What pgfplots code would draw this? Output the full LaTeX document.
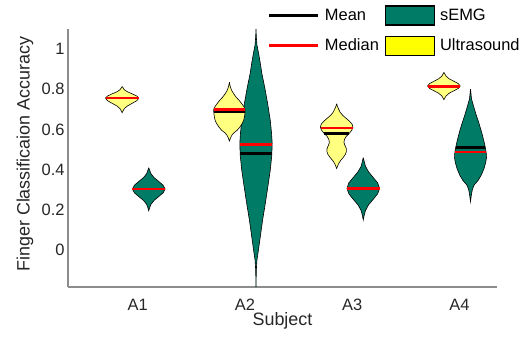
\documentclass[border=0pt]{standalone}
\usepackage{pgfplots}
\pgfplotsset{compat=1.18}
\usepackage{fontspec}
\setmainfont{Liberation Sans}
\definecolor{semg}{RGB}{0,124,102}
\definecolor{usv}{RGB}{255,255,128}
\definecolor{usl}{RGB}{255,255,0}
\definecolor{axgray}{RGB}{140,140,140}
\definecolor{txt}{RGB}{38,38,38}
\begin{document}
\begin{tikzpicture}
\begin{axis}[
 scale only axis, width=429bp, height=258bp,
 xmin=0.35, xmax=4.35, ymin=-0.185, ymax=1.1,
 axis x line*=bottom, axis y line*=left,
 axis line style={axgray, line width=1.3bp, -},
 major tick length=0pt,
 xtick={1,2,3,4}, xticklabels={A1,A2,A3,A4},
 ytick={0,0.2,0.4,0.6,0.8,1},
 tick label style={font=\fontsize{16.5}{19}\selectfont, text=txt},
 /pgf/number format/assume math mode=true,
 xticklabel style={anchor=base, yshift=-23bp},
 label style={font=\fontsize{18}{21}\selectfont, text=txt},
 xlabel={Subject}, ylabel={Finger Classificaion Accuracy},
 xlabel style={at={(axis description cs:0.5,-0.150)}, anchor=base},
 ylabel style={at={(axis description cs:-0.100,0.515)}, anchor=center},
 legend columns=2,
 legend cell align=left,
 legend style={draw=none, fill=none, inner sep=0pt, outer sep=0pt,
   at={(axis description cs:0.4662,1.0915)}, anchor=north west,
   font=\fontsize{16.5}{19}\selectfont, row sep=10bp,
   nodes={inner sep=0pt},
   /tikz/every odd column/.append style={column sep=5bp},
   /tikz/every even column/.append style={column sep=6bp}},
]
\coordinate (O) at (rel axis cs:0,0);
\addlegendimage{legend image code/.code={\draw[black, line width=3bp] (0bp,0bp) -- (49bp,0bp);}}
\addlegendentry{Mean}
\addlegendimage{legend image code/.code={\draw[fill=semg, draw=black, line width=1.2bp] (0bp,-9.5bp) rectangle (49bp,9.5bp);}}
\addlegendentry{sEMG}
\addlegendimage{legend image code/.code={\draw[red, line width=3bp] (0bp,0bp) -- (49bp,0bp);}}
\addlegendentry{Median}
\addlegendimage{legend image code/.code={\draw[fill=usl, draw=black, line width=1.2bp] (0bp,-9.5bp) rectangle (49bp,9.5bp);}}
\addlegendentry{Ultrasound}

% sEMG violins
\addplot[fill=semg, draw=black, line width=0.6bp, forget plot] coordinates {
(1.103,0.409) (1.110,0.398) (1.124,0.379) (1.152,0.360) (1.195,0.341) (1.237,0.322) (1.255,0.303) (1.237,0.284) (1.195,0.265) (1.152,0.246) (1.124,0.227) (1.110,0.208) (1.103,0.195) (1.096,0.208) (1.083,0.227) (1.054,0.246) (1.011,0.265) (0.969,0.284) (0.951,0.303) (0.969,0.322) (1.011,0.341) (1.054,0.360) (1.083,0.379) (1.096,0.398) (1.103,0.409)};
\addplot[fill=semg, draw=black, line width=0.6bp, forget plot] coordinates {
(2.103,1.10) (2.106,1.06) (2.112,1.02) (2.128,0.976) (2.143,0.93) (2.157,0.88) (2.184,0.81) (2.211,0.73) (2.236,0.645) (2.248,0.58) (2.254,0.53) (2.250,0.47) (2.236,0.397) (2.215,0.32) (2.190,0.232) (2.165,0.15) (2.143,0.066) (2.126,0.0) (2.112,-0.05) (2.106,-0.10) (2.103,-0.185)
(2.100,-0.10) (2.094,-0.05) (2.080,0.0) (2.063,0.066) (2.041,0.15) (2.016,0.232) (1.991,0.32) (1.970,0.397) (1.956,0.47) (1.952,0.53) (1.958,0.58) (1.970,0.645) (1.995,0.73) (2.022,0.81) (2.049,0.88) (2.063,0.93) (2.078,0.976) (2.094,1.02) (2.100,1.06) (2.103,1.10)};
\addplot[fill=semg, draw=black, line width=0.6bp, forget plot] coordinates {
(3.103,0.459) (3.110,0.444) (3.124,0.416) (3.152,0.389) (3.195,0.361) (3.237,0.334) (3.255,0.306) (3.237,0.279) (3.195,0.251) (3.152,0.224) (3.124,0.196) (3.110,0.169) (3.103,0.149) (3.096,0.169) (3.083,0.196) (3.054,0.224) (3.011,0.251) (2.969,0.279) (2.951,0.306) (2.969,0.334) (3.011,0.361) (3.054,0.389) (3.083,0.416) (3.096,0.444) (3.103,0.459)};
\addplot[fill=semg, draw=black, line width=0.6bp, forget plot] coordinates {
(4.103,0.800) (4.108,0.775) (4.112,0.753) (4.129,0.720) (4.157,0.670) (4.182,0.630) (4.206,0.587) (4.224,0.550) (4.240,0.513) (4.249,0.485) (4.252,0.460) (4.246,0.438) (4.229,0.405) (4.203,0.372) (4.173,0.345) (4.137,0.323) (4.120,0.300) (4.110,0.270) (4.103,0.240)
(4.096,0.270) (4.086,0.300) (4.069,0.323) (4.033,0.345) (4.003,0.372) (3.977,0.405) (3.960,0.438) (3.954,0.460) (3.957,0.485) (3.966,0.513) (3.982,0.550) (4.000,0.587) (4.024,0.630) (4.049,0.670) (4.077,0.720) (4.094,0.753) (4.098,0.775) (4.103,0.800)};

% Ultrasound violins
\addplot[fill=usv, draw=black, line width=0.6bp, forget plot] coordinates {
(0.855,0.814) (0.862,0.808) (0.876,0.797) (0.905,0.787) (0.949,0.777) (0.992,0.766) (1.010,0.756) (0.992,0.743) (0.949,0.730) (0.905,0.717) (0.876,0.704) (0.862,0.691) (0.855,0.683) (0.848,0.691) (0.834,0.704) (0.805,0.717) (0.761,0.730) (0.718,0.743) (0.700,0.756) (0.718,0.766) (0.761,0.777) (0.805,0.787) (0.834,0.797) (0.848,0.808) (0.855,0.814)};
\addplot[fill=usv, draw=black, line width=0.6bp, forget plot] coordinates {
(1.855,0.835) (1.862,0.815) (1.876,0.794) (1.894,0.778) (1.917,0.761) (1.945,0.745) (1.970,0.728) (1.990,0.713) (2.002,0.698) (2.000,0.680) (1.995,0.662) (1.988,0.645) (1.974,0.629) (1.953,0.612) (1.928,0.596) (1.897,0.583) (1.878,0.571) (1.864,0.556) (1.855,0.542)
(1.846,0.556) (1.832,0.571) (1.813,0.583) (1.782,0.596) (1.757,0.612) (1.736,0.629) (1.722,0.645) (1.715,0.662) (1.710,0.680) (1.708,0.698) (1.720,0.713) (1.740,0.728) (1.765,0.745) (1.793,0.761) (1.816,0.778) (1.834,0.794) (1.848,0.815) (1.855,0.835)};
\addplot[fill=usv, draw=black, line width=0.6bp, forget plot] coordinates {
(2.855,0.728) (2.862,0.715) (2.874,0.700) (2.888,0.685) (2.911,0.670) (2.944,0.655) (2.976,0.640) (3.000,0.625) (3.007,0.610) (2.995,0.595) (2.972,0.580) (2.944,0.565) (2.928,0.550) (2.923,0.535) (2.932,0.520) (2.945,0.505) (2.946,0.490) (2.936,0.475) (2.916,0.460) (2.892,0.445) (2.874,0.430) (2.862,0.415) (2.855,0.405)
(2.848,0.415) (2.836,0.430) (2.818,0.445) (2.794,0.460) (2.774,0.475) (2.764,0.490) (2.765,0.505) (2.778,0.520) (2.787,0.535) (2.782,0.550) (2.766,0.565) (2.738,0.580) (2.715,0.595) (2.703,0.610) (2.710,0.625) (2.734,0.640) (2.766,0.655) (2.799,0.670) (2.822,0.685) (2.836,0.700) (2.848,0.715) (2.855,0.728)};
\addplot[fill=usv, draw=black, line width=0.6bp, forget plot] coordinates {
(3.855,0.884) (3.862,0.877) (3.876,0.865) (3.904,0.852) (3.947,0.840) (3.989,0.828) (4.007,0.816) (3.989,0.804) (3.947,0.792) (3.904,0.780) (3.876,0.767) (3.862,0.755) (3.855,0.748) (3.848,0.755) (3.835,0.767) (3.806,0.780) (3.763,0.792) (3.721,0.804) (3.703,0.816) (3.721,0.828) (3.763,0.840) (3.806,0.852) (3.835,0.865) (3.848,0.877) (3.855,0.884)};

% means
\addplot[black, line width=2.7bp, forget plot] coordinates {(0.700,0.756) (1.010,0.756)};
\addplot[black, line width=2.7bp, forget plot] coordinates {(0.951,0.303) (1.255,0.303)};
\addplot[black, line width=2.7bp, forget plot] coordinates {(1.709,0.687) (2.001,0.687)};
\addplot[black, line width=2.7bp, forget plot] coordinates {(1.955,0.480) (2.251,0.480)};
\addplot[black, line width=2.7bp, forget plot] coordinates {(2.737,0.581) (2.973,0.581)};
\addplot[black, line width=2.7bp, forget plot] coordinates {(2.951,0.306) (3.255,0.306)};
\addplot[black, line width=2.7bp, forget plot] coordinates {(3.703,0.815) (4.007,0.815)};
\addplot[black, line width=2.7bp, forget plot] coordinates {(3.966,0.511) (4.240,0.511)};
% medians
\addplot[red, line width=2.7bp, forget plot] coordinates {(0.700,0.756) (1.010,0.756)};
\addplot[red, line width=2.7bp, forget plot] coordinates {(0.951,0.303) (1.255,0.303)};
\addplot[red, line width=2.7bp, forget plot] coordinates {(1.708,0.698) (2.002,0.698)};
\addplot[red, line width=2.7bp, forget plot] coordinates {(1.952,0.523) (2.254,0.523)};
\addplot[red, line width=2.7bp, forget plot] coordinates {(2.705,0.607) (3.005,0.607)};
\addplot[red, line width=2.7bp, forget plot] coordinates {(2.951,0.306) (3.255,0.306)};
\addplot[red, line width=2.7bp, forget plot] coordinates {(3.703,0.815) (4.007,0.815)};
\addplot[red, line width=2.7bp, forget plot] coordinates {(3.957,0.487) (4.249,0.487)};
\end{axis}
\path ([shift={(-68bp,-54bp)}]O) rectangle ++(521bp,341bp);
\end{tikzpicture}
\end{document}
